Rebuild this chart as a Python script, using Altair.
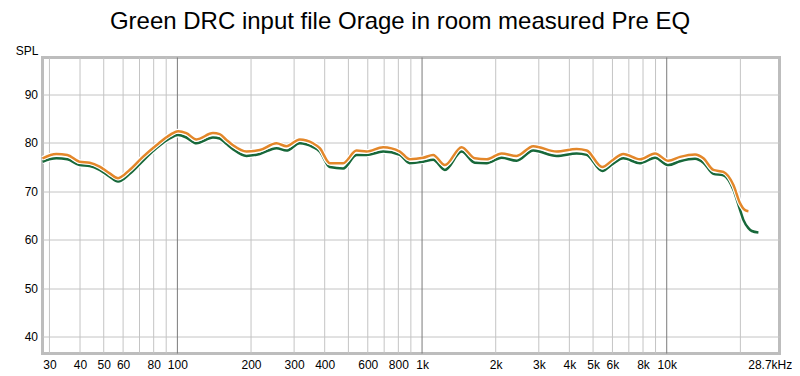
import altair as alt
import pandas as pd

# ---- data ----
freq_orange = [28.1, 32.0, 35.5, 39.8, 43.8, 48.1, 52.9, 57.2, 63.8, 72.3, 82.1, 93.0, 100.6, 108.8,
               119.6, 139.8, 148.9, 158.6, 168.8, 191.5, 217.1, 254.1, 279.1, 316.4, 358.5, 381.9,
               419.7, 475.7, 539.6, 593, 693.4, 811.5, 891.6, 1010, 1110, 1240, 1451, 1644, 1836,
               2114, 2435, 2847, 3549, 4284, 4709, 5450, 6000, 6645, 7780, 8960, 10150, 11340,
               13050, 14120, 15510, 17040, 18730, 19950, 20910, 21570]
spl_orange = [76.8, 77.7, 77.5, 76.1, 75.9, 75.1, 73.7, 72.7, 74.4, 77.1, 79.5, 81.6, 82.4, 82.0,
              80.7, 82.0, 81.8, 80.6, 79.5, 78.2, 78.5, 79.9, 79.3, 80.7, 79.9, 78.9,
              75.8, 75.8, 78.4, 78.2, 79.1, 78.2, 76.6, 76.9, 77.5, 75.4, 79.1, 76.8, 76.6,
              77.8, 77.3, 79.3, 78.2, 78.7, 78.4, 75.0, 76.4, 77.7, 76.6, 77.8, 76.3, 77.1,
              77.6, 76.8, 74.4, 74.0, 71.3, 67.5, 66.1, 65.9]

freq_green = [28.1, 32.0, 35.5, 39.8, 43.8, 48.1, 52.9, 57.2, 63.8, 72.3, 82.1, 93.0, 100.6, 108.8,
              119.6, 139.8, 148.9, 158.6, 168.8, 191.5, 217.1, 254.1, 279.1, 316.4, 358.5, 381.9,
              419.7, 475.7, 539.6, 593, 693.4, 811.5, 891.6, 1010, 1110, 1240, 1451, 1644, 1836,
              2114, 2435, 2847, 3549, 4284, 4709, 5450, 6000, 6645, 7780, 8960, 10150, 11340,
              13050, 14120, 15510, 17040, 18730, 19950, 20570, 21570, 22270, 23700]
spl_green = [76.1, 76.8, 76.6, 75.4, 75.2, 74.4, 73.0, 72.0, 73.6, 76.3, 78.9, 80.9, 81.6, 81.1,
             79.9, 81.1, 80.9, 79.8, 78.7, 77.3, 77.7, 78.9, 78.4, 79.9, 79.1, 78.2,
             75.0, 74.7, 77.5, 77.5, 78.2, 77.5, 75.8, 76.1, 76.5, 74.4, 78.2, 75.9, 75.8,
             76.9, 76.3, 78.4, 77.3, 77.8, 77.5, 74.2, 75.6, 76.8, 75.8, 76.9, 75.4, 76.2,
             76.7, 75.9, 73.6, 73.3, 70.3, 66.1, 64.1, 62.4, 61.8, 61.5]

grid_minor = [30, 40, 50, 60, 70, 80, 90, 200, 300, 400, 500, 600, 700, 800, 900,
              2000, 3000, 4000, 5000, 6000, 7000, 8000, 9000, 20000]
grid_major = [100, 1000, 10000]

tick_values = [30, 40, 50, 60, 80, 100, 200, 300, 400, 600, 800, 1000, 2000, 3000, 4000,
               5000, 6000, 8000, 10000, 28700]
tick_labels = ["30", "40", "50", "60", "80", "100", "200", "300", "400", "600", "800", "1k",
               "2k", "3k", "4k", "5k", "6k", "8k", "10k", "28.7kHz"]
y_ticks = [40, 50, 60, 70, 80, 90]

TITLE = "Green DRC input file Orage in room measured Pre EQ"
FONT = "Liberation Sans"
W, H = 737, 296

df_o = pd.DataFrame({"freq": freq_orange, "spl": spl_orange})
df_g = pd.DataFrame({"freq": freq_green, "spl": spl_green})
df_minor = pd.DataFrame({"freq": grid_minor})
df_major = pd.DataFrame({"freq": grid_major})

label_expr = ""
for v, l in zip(tick_values, tick_labels):
    label_expr += f"datum.value == {v} ? '{l}' : "
label_expr += "''"

xscale = alt.Scale(type="log", domain=[28.1, 28900], nice=False)
yscale = alt.Scale(domain=[36.53, 97.6], nice=False, zero=False)

xaxis = alt.Axis(values=tick_values, labelExpr=label_expr, grid=False, ticks=False, domain=False,
                 labelPadding=6, labelFontSize=12, labelFont=FONT, labelColor="#000000",
                 labelOverlap=False, labelFlush=False, labelBound=False, title=None,
                 labelOffset={"condition": {"test": "datum.value > 20000", "value": -9}, "value": 0})
yaxis = alt.Axis(values=y_ticks, grid=True, gridColor="#C4C4C4", gridWidth=1, ticks=False,
                 domain=False, labelPadding=5, labelFontSize=12, labelFont=FONT,
                 labelColor="#000000", title="SPL", titleAngle=0, titleAlign="right",
                 titleBaseline="alphabetic", titleX=-4.5, titleY=-3.5, titleFontSize=12,
                 titleFont=FONT, titleFontWeight="normal", titleColor="#000000")

minor = alt.Chart(df_minor).mark_rule(color="#C4C4C4", strokeWidth=1).encode(
    x=alt.X("freq:Q", scale=xscale, axis=xaxis))
major = alt.Chart(df_major).mark_rule(color="#7A7A7A", strokeWidth=1).encode(
    x=alt.X("freq:Q", scale=xscale))

def line(df, color, width):
    return alt.Chart(df).mark_line(color=color, strokeWidth=width, interpolate="monotone").encode(
        x=alt.X("freq:Q", scale=xscale),
        y=alt.Y("spl:Q", scale=yscale, axis=yaxis))

chart = alt.layer(
    minor, major,
    line(df_g, "#FFFFFF", 4.8), line(df_g, "#17683A", 2.5),
    line(df_o, "#FFFFFF", 4.8), line(df_o, "#E3872A", 2.5),
).properties(
    width=W, height=H,
    title=alt.TitleParams(TITLE, fontSize=24, font=FONT, fontWeight="normal", color="#000000",
                          anchor="middle", frame="group", baseline="alphabetic", offset=14,
                          dx=-11, dy=22.5),
    autosize=alt.AutoSizeParams(type="none"),
    padding={"left": 34.5, "top": 49.5, "right": 12.5, "bottom": 18},
    background="#FFFFFF",
).configure_view(stroke="#BDBDBD", strokeWidth=3)

chart.save("out.html", embed_options={"renderer": "svg", "actions": False})
